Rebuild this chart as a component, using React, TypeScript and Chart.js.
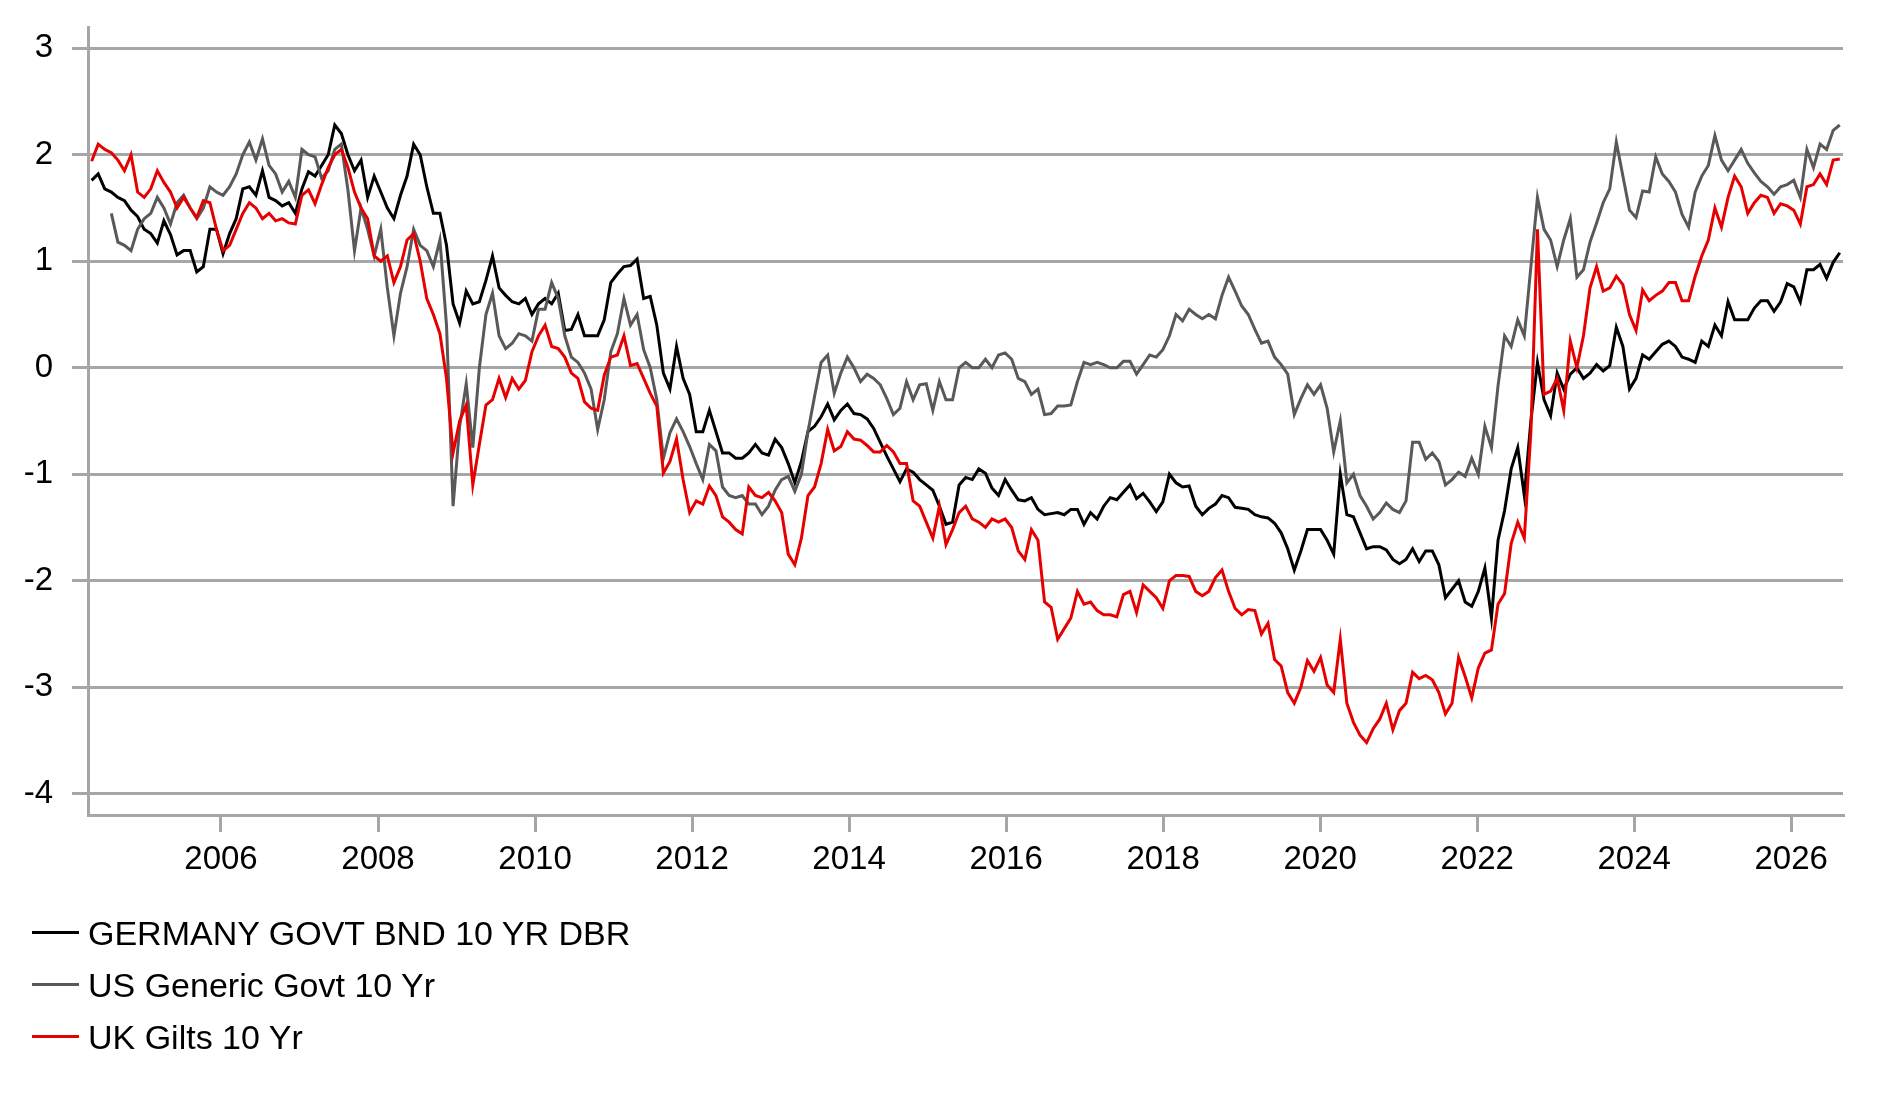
import React, { useEffect, useRef } from 'react';
import { Chart, registerables } from 'chart.js';

Chart.register(...registerables);

const startYear = 2004.352;
const slotYears = 0.08371;
const monthCount = 267;
const months: number[] = Array.from({ length: monthCount }, (_, i) => startYear + i * slotYears);

const yearTicks = [2006, 2008, 2010, 2012, 2014, 2016, 2018, 2020, 2022, 2024, 2026];
const valueTicks = [-4, -3, -2, -1, 0, 1, 2, 3];

const germany: number[] = [
  1.76, 1.82, 1.68, 1.65, 1.6, 1.57, 1.48, 1.42, 1.3, 1.26,
  1.17, 1.38, 1.25, 1.06, 1.1, 1.1, 0.9, 0.95, 1.3, 1.3,
  1.07, 1.26, 1.4, 1.68, 1.7, 1.62, 1.85, 1.6, 1.57, 1.52,
  1.55, 1.45, 1.68, 1.84, 1.8, 1.9, 2.0, 2.28, 2.2, 2.0,
  1.85, 1.95, 1.6, 1.8, 1.65, 1.5, 1.4, 1.62, 1.8, 2.1,
  2.0, 1.7, 1.45, 1.45, 1.15, 0.6, 0.42, 0.72, 0.6, 0.62,
  0.82, 1.05, 0.75, 0.68, 0.62, 0.6, 0.65, 0.5, 0.6, 0.65,
  0.6, 0.7, 0.35, 0.36, 0.5, 0.3, 0.3, 0.3, 0.45, 0.8,
  0.88, 0.95, 0.96, 1.02, 0.65, 0.67, 0.4, -0.05, -0.2, 0.2,
  -0.1, -0.25, -0.6, -0.6, -0.4, -0.6, -0.8, -0.8, -0.85, -0.85,
  -0.8, -0.72, -0.8, -0.82, -0.67, -0.75, -0.9, -1.08, -0.88, -0.6,
  -0.55, -0.46, -0.34, -0.49, -0.4, -0.34, -0.43, -0.44, -0.48, -0.57,
  -0.7, -0.83, -0.95, -1.07, -0.95, -0.98, -1.05, -1.1, -1.15, -1.3,
  -1.47, -1.45, -1.1, -1.03, -1.05, -0.95, -0.99, -1.13, -1.2, -1.05,
  -1.15, -1.24, -1.25, -1.22, -1.33, -1.38, -1.37, -1.36, -1.38, -1.33,
  -1.33, -1.47, -1.36, -1.42, -1.3, -1.22, -1.24, -1.17, -1.1, -1.23,
  -1.18, -1.26, -1.35, -1.26, -1.0, -1.08, -1.12, -1.11, -1.3, -1.38,
  -1.32, -1.28, -1.2, -1.22, -1.31, -1.32, -1.33, -1.38, -1.4, -1.41,
  -1.46, -1.55, -1.7, -1.9, -1.72, -1.52, -1.52, -1.52, -1.62, -1.75,
  -1.0, -1.38, -1.4, -1.55, -1.7, -1.68, -1.68, -1.71, -1.8, -1.84,
  -1.8, -1.7, -1.82, -1.72, -1.72, -1.85, -2.16, -2.08, -2.0, -2.2,
  -2.24, -2.1, -1.88, -2.35, -1.62, -1.34, -0.95, -0.75, -1.2, -0.5,
  0.05, -0.3, -0.45, -0.05, -0.2, -0.06, 0.0, -0.1, -0.05, 0.03,
  -0.03, 0.02, 0.38, 0.2, -0.2, -0.1, 0.12, 0.08, 0.15, 0.22,
  0.25, 0.2, 0.1, 0.08, 0.05, 0.25, 0.2, 0.4, 0.3, 0.62,
  0.45, 0.45, 0.45, 0.56, 0.63, 0.63, 0.53, 0.62, 0.79, 0.76,
  0.62, 0.92, 0.92, 0.97, 0.84, 0.99, 1.08,
];

const us: (number | null)[] = [
  null, null, null, 1.45, 1.18, 1.15, 1.1, 1.3, 1.4, 1.45,
  1.6, 1.5, 1.35, 1.55, 1.62, 1.5, 1.4, 1.5, 1.7, 1.65,
  1.62, 1.7, 1.82, 2.0, 2.12, 1.95, 2.15, 1.9, 1.82, 1.65,
  1.75, 1.6, 2.05, 2.0, 1.98, 1.78, 1.85, 2.05, 2.1, 1.67,
  1.1, 1.5, 1.3, 1.05, 1.3, 0.75, 0.3, 0.7, 0.95, 1.3,
  1.15, 1.1, 0.95, 1.2, 0.4, -1.3, -0.55, -0.15, -0.75, 0.0,
  0.5, 0.7, 0.3, 0.18, 0.23, 0.32, 0.3, 0.25, 0.55, 0.55,
  0.8, 0.65, 0.3, 0.1, 0.05, -0.05, -0.2, -0.58, -0.3, 0.15,
  0.32, 0.65, 0.4, 0.5, 0.17, 0.0, -0.3, -0.85, -0.61, -0.48,
  -0.6, -0.74, -0.9, -1.05, -0.72, -0.78, -1.12, -1.2, -1.22, -1.2,
  -1.28, -1.28, -1.38, -1.3, -1.15, -1.05, -1.02, -1.16, -1.0, -0.6,
  -0.27, 0.05, 0.12, -0.24, -0.05, 0.1, 0.0, -0.13, -0.06, -0.1,
  -0.16, -0.29, -0.44, -0.38, -0.13, -0.3, -0.16, -0.15, -0.4, -0.13,
  -0.3, -0.3, 0.0, 0.05, 0.0, 0.0, 0.08, 0.0, 0.12, 0.14,
  0.08, -0.1, -0.13, -0.25, -0.2, -0.44, -0.43, -0.36, -0.36, -0.35,
  -0.13, 0.05, 0.03, 0.05, 0.03, 0.0, 0.0, 0.06, 0.06, -0.06,
  0.03, 0.12, 0.1, 0.17, 0.3, 0.5, 0.44, 0.55, 0.5, 0.46,
  0.5, 0.46, 0.68, 0.85, 0.72, 0.58, 0.5, 0.36, 0.23, 0.25,
  0.1, 0.03, -0.06, -0.44, -0.29, -0.16, -0.25, -0.16, -0.38, -0.79,
  -0.5, -1.08, -1.0, -1.2, -1.3, -1.42, -1.36, -1.27, -1.33, -1.36,
  -1.25, -0.7, -0.7, -0.86, -0.8, -0.88, -1.1, -1.05, -0.98, -1.02,
  -0.85, -1.0, -0.55, -0.75, -0.17, 0.3, 0.2, 0.45, 0.3, 0.95,
  1.6, 1.3, 1.2, 0.95, 1.2, 1.4, 0.85, 0.92, 1.18, 1.36,
  1.55, 1.68, 2.12, 1.8, 1.48, 1.41, 1.66, 1.65, 1.98, 1.82,
  1.75, 1.65, 1.44, 1.32, 1.65, 1.8, 1.9, 2.18, 1.95, 1.85,
  1.95, 2.05, 1.92, 1.83, 1.75, 1.7, 1.63, 1.7, 1.72, 1.76,
  1.6, 2.05, 1.88, 2.1, 2.05, 2.23, 2.28,
];

const uk: number[] = [
  1.94, 2.1, 2.05, 2.02, 1.95, 1.85, 2.0, 1.65, 1.6, 1.68,
  1.85, 1.74, 1.65, 1.5, 1.6, 1.5, 1.41, 1.57, 1.55, 1.3,
  1.1, 1.15, 1.3, 1.45, 1.55, 1.5, 1.4, 1.45, 1.38, 1.4,
  1.36, 1.35, 1.62, 1.67, 1.54, 1.72, 1.88, 2.0, 2.05, 1.88,
  1.65, 1.5, 1.4, 1.05, 1.0, 1.05, 0.8, 0.95, 1.2, 1.26,
  1.0, 0.65, 0.5, 0.32, -0.1, -0.8, -0.5, -0.35, -1.1, -0.72,
  -0.35, -0.3, -0.1, -0.28, -0.1, -0.2, -0.12, 0.15, 0.3, 0.4,
  0.2, 0.18, 0.1, -0.05, -0.1, -0.32, -0.38, -0.4, -0.07, 0.1,
  0.12, 0.3, 0.02, 0.04, -0.1, -0.24, -0.36, -0.99, -0.88, -0.67,
  -1.05, -1.36, -1.25, -1.28, -1.11, -1.2, -1.4, -1.45, -1.52, -1.56,
  -1.12, -1.2, -1.22, -1.17, -1.25, -1.36, -1.75, -1.85, -1.6, -1.2,
  -1.12, -0.9, -0.58, -0.78, -0.74, -0.6, -0.67, -0.68, -0.73, -0.79,
  -0.79, -0.73, -0.79, -0.9, -0.9, -1.25, -1.3, -1.45, -1.6, -1.3,
  -1.66, -1.52, -1.36, -1.3, -1.42, -1.45, -1.5, -1.42, -1.45, -1.42,
  -1.5, -1.72, -1.8, -1.52, -1.62, -2.2, -2.25, -2.55, -2.45, -2.35,
  -2.1, -2.22, -2.2, -2.28, -2.32, -2.32, -2.34, -2.13, -2.1, -2.3,
  -2.04, -2.1, -2.16, -2.26, -2.0, -1.95, -1.95, -1.96, -2.1, -2.14,
  -2.1, -1.97, -1.9, -2.1, -2.26, -2.32, -2.27, -2.28, -2.5, -2.4,
  -2.74, -2.8, -3.05, -3.15, -3.0, -2.75, -2.85, -2.72, -2.98, -3.05,
  -2.55, -3.15, -3.33, -3.45, -3.52, -3.39, -3.3, -3.15, -3.4, -3.22,
  -3.15, -2.86, -2.92, -2.89, -2.93, -3.05, -3.25, -3.15, -2.72, -2.9,
  -3.1, -2.82, -2.68, -2.65, -2.22, -2.12, -1.65, -1.45, -1.6, -0.6,
  1.3, -0.25, -0.22, -0.1, -0.4, 0.25, 0.0, 0.3, 0.75, 0.95,
  0.72, 0.75, 0.86, 0.78, 0.5, 0.35, 0.73, 0.63, 0.68, 0.72,
  0.8, 0.8, 0.63, 0.63, 0.86, 1.05, 1.2, 1.5, 1.32, 1.6,
  1.8, 1.7, 1.45, 1.55, 1.62, 1.6, 1.45, 1.54, 1.52, 1.48,
  1.35, 1.7, 1.72, 1.82, 1.72, 1.95, 1.96,
];

const seriesNames = ['GERMANY GOVT BND 10 YR DBR', 'US Generic Govt 10 Yr', 'UK Gilts 10 Yr'];
const seriesColors = ['#000000', '#595959', '#e60000'];

const FONT = '"Liberation Sans", Arial, sans-serif';
const GRID = '#a6a6a6';

const toPoints = (vals: (number | null)[]) => vals.map((v, i) => ({ x: months[i], y: v }));

export default function App() {
  const canvasRef = useRef<HTMLCanvasElement>(null);

  useEffect(() => {
    document.body.style.margin = '0';
    if (!canvasRef.current) return;
    const chart = new Chart(canvasRef.current, {
      type: 'line',
      data: {
        datasets: [germany, us, uk].map((vals, k) => ({
          label: seriesNames[k],
          data: toPoints(vals) as any,
          borderColor: seriesColors[k],
          backgroundColor: seriesColors[k],
          borderWidth: 3,
          pointRadius: 0,
          tension: 0,
          spanGaps: false,
          order: 3 - k,
        })),
      },
      options: {
        responsive: false,
        animation: false,
        layout: { padding: { top: 27, right: 40, left: 0, bottom: 0 } },
        plugins: { legend: { display: false }, tooltip: { enabled: false } },
        scales: {
          x: {
            type: 'linear',
            min: 2004.306,
            max: 2026.66,
            afterBuildTicks: (s: any) => { s.ticks = yearTicks.map((v) => ({ value: v })); },
            afterFit: (s: any) => {
              s.height = 286;
              s.paddingLeft = 0;
              s.paddingRight = 0;
            },
            grid: { drawOnChartArea: false, drawTicks: true, tickLength: 17, color: GRID, lineWidth: 3 },
            border: { display: true, color: GRID, width: 3 },
            ticks: {
              padding: 8,
              maxRotation: 0,
              autoSkip: false,
              color: '#000',
              font: { family: FONT, size: 33 },
              callback: (v: any) => String(v),
            },
          },
          y: {
            type: 'linear',
            min: -4.2,
            max: 3.2,
            afterBuildTicks: (s: any) => { s.ticks = valueTicks.map((v) => ({ value: v })); },
            afterFit: (s: any) => {
              s.width = 88;
              s.paddingTop = 0;
              s.paddingBottom = 0;
            },
            grid: { drawOnChartArea: true, drawTicks: true, tickLength: 16, color: GRID, lineWidth: 3 },
            border: { display: true, color: GRID, width: 3 },
            ticks: {
              padding: 19,
              color: '#000',
              font: { family: FONT, size: 33 },
              callback: (v: any) => String(v),
            },
          },
        },
      },
    });
    return () => chart.destroy();
  }, []);

  return (
    <div style={{ position: 'relative', width: 1883, height: 1101, background: '#fff', overflow: 'hidden' }}>
      <canvas ref={canvasRef} width={1883} height={1101} style={{ width: 1883, height: 1101, display: 'block' }} />
      <div style={{ position: 'absolute', left: 0, top: 907 }}>
        {seriesNames.map((name, k) => (
          <div key={name} style={{ height: 52, lineHeight: '52px', position: 'relative', whiteSpace: 'nowrap' }}>
            <span style={{ position: 'absolute', left: 32, top: 24, width: 47, height: 3, background: seriesColors[k] }} />
            <span style={{ position: 'absolute', left: 88, top: 0, fontFamily: FONT, fontSize: 34, color: '#000' }}>{name}</span>
          </div>
        ))}
      </div>
    </div>
  );
}
